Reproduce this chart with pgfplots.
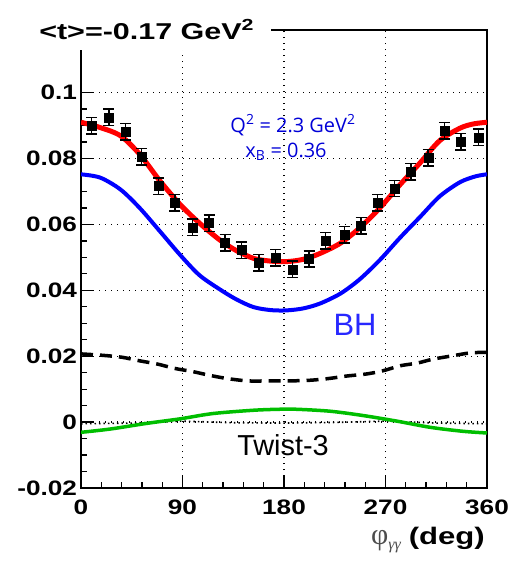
\documentclass[border=0pt]{standalone}
\usepackage{pgfplots}
\pgfplotsset{compat=1.18}
\usepackage{fontspec}
\setmainfont{Liberation Sans}
\newfontfamily\comic{Open Sans}
\newfontfamily\serifgreek{Liberation Serif}
\definecolor{txtblue}{RGB}{0,0,215}
\definecolor{bhblue}{RGB}{40,40,255}
\definecolor{rootgreen}{RGB}{0,190,0}

\pgfplotstableread{
x y e
9.5 0.0900 0.0025
24.8 0.0925 0.0025
39.6 0.0881 0.0025
53.8 0.0805 0.0025
68.5 0.0716 0.0025
83.3 0.0665 0.0025
98.7 0.0591 0.0025
113.5 0.0604 0.0025
127.7 0.0545 0.0025
142.5 0.0522 0.0025
157.8 0.0484 0.0025
172.6 0.0499 0.0025
187.4 0.0464 0.0025
202.2 0.0495 0.0025
217.0 0.0550 0.0025
233.5 0.0568 0.0025
248.3 0.0596 0.0025
263.1 0.0665 0.0025
277.8 0.0709 0.0025
292.6 0.0760 0.0025
307.9 0.0803 0.0025
322.1 0.0884 0.0025
336.9 0.0851 0.0025
352.3 0.0864 0.0025
}\datatable

\pgfplotstableread{
x y
0 0.0910
17 0.0894
35 0.0869
52 0.0813
70 0.0732
88 0.0660
105 0.0604
123 0.0553
138 0.0520
153 0.0497
167 0.0489
182 0.0487
197 0.0494
212 0.0512
230 0.0543
247 0.0589
265 0.0650
283 0.0721
301 0.0788
318 0.0854
336 0.0892
348 0.0905
360 0.0910
}\redtable

\pgfplotstableread{
x y
0 0.0752
17 0.0742
35 0.0706
52 0.0650
70 0.0579
88 0.0507
105 0.0446
123 0.0403
138 0.0372
153 0.0349
168 0.0340
182 0.0339
197 0.0345
212 0.0360
230 0.0390
247 0.0433
265 0.0492
283 0.0560
301 0.0624
318 0.0685
336 0.0728
350 0.0746
360 0.0752
}\bluetable

\pgfplotstableread{
x y
0 0.0207
18 0.0203
36 0.0197
52 0.0186
68 0.0176
83 0.0163
99.5 0.0153
114 0.0142
130 0.0132
148 0.0125
166 0.0125
184 0.0125
203 0.0127
219 0.0132
236 0.0140
253 0.0146
268 0.0156
283 0.0171
298 0.0179
312 0.0191
329 0.0201
345 0.0210
360 0.0212
}\dashtable

\pgfplotstableread{
x y
0 -0.0031
26 -0.0021
58 -0.0004
88 0.0010
117 0.0026
153 0.0036
176 0.0039
191 0.0039
221 0.0033
250 0.0020
280 0.0003
310 -0.0016
339 -0.0028
360 -0.0033
}\greentable

\pgfplotstableread{
x y
0 -0.0005
45 -0.0003
90 0.0003
135 -0.0002
180 -0.0003
225 -0.0001
270 0.0003
315 -0.0003
360 -0.0005
}\dottable

\begin{document}
\begin{tikzpicture}
\path[use as bounding box] (0,0) rectangle (521bp,-563bp);
\begin{axis}[
  at={(81bp,-488bp)}, anchor=south west,
  width=406bp, height=458bp, scale only axis,
  xmin=0, xmax=360, ymin=-0.02, ymax=0.119,
  xtick={0,90,180,270,360},
  xticklabels={0,90,180,270,360},
  ytick={-0.02,0,0.02,0.04,0.06,0.08,0.1},
  yticklabels={-0.02,0,0.02,0.04,0.06,0.08,0.1},
  minor x tick num=4, minor y tick num=3,
  tick align=inside, tick pos=left,
  major tick length=12bp, minor tick length=6bp,
  every tick/.style={black, line width=1.3bp},
  axis line style={line width=1.6bp},
  grid=major,
  major grid style={black, line width=1.4bp, dash pattern=on 1.4bp off 4.6bp},
  xticklabel style={font=\fontsize{21}{21}\selectfont\bfseries, xscale=1.25, anchor=north, inner sep=0pt, yshift=-12bp},
  yticklabel style={font=\fontsize{21}{21}\selectfont\bfseries, xscale=1.25, anchor=east, inner sep=0pt, xshift=-3bp},
]
\addplot[black, line width=1.6bp, dash pattern=on 1.5bp off 3bp] table[x=x,y=y] {\dottable};
\addplot[rootgreen, line width=3.5bp, smooth] table[x=x,y=y] {\greentable};
\addplot[black, line width=3.5bp, dash pattern=on 12bp off 7bp, smooth] table[x=x,y=y] {\dashtable};
\addplot[blue, line width=4bp, smooth] table[x=x,y=y] {\bluetable};
\addplot[red, line width=5bp, smooth] table[x=x,y=y] {\redtable};
\addplot[black, only marks, mark=square*, mark size=4.5bp,
  error bars/.cd, y dir=both, y explicit,
  error bar style={line width=1.5bp},
  error mark options={rotate=90, mark size=5.5bp, line width=1.5bp}]
  table[x=x,y=y,y error=e] {\datatable};
\end{axis}
\fill[white] (30bp,-4bp) rectangle (271bp,-50bp);
\node[anchor=base west, inner sep=0pt, xscale=1.33, font=\fontsize{23}{23}\selectfont\bfseries] at (39bp,-39bp) {<t>=-0.17 GeV\textsuperscript{2}};
\node[anchor=base, inner sep=0pt, text=txtblue, font=\comic\fontsize{20}{20}\selectfont] at (293bp,-132bp) {Q\textsuperscript{2} = 2.3 GeV\textsuperscript{2}};
\node[anchor=base, inner sep=0pt, text=txtblue, font=\comic\fontsize{20}{20}\selectfont] at (286bp,-157bp) {x\textsubscript{B} = 0.36};
\node[anchor=center, inner sep=0pt, text=bhblue, font=\fontsize{31}{31}\selectfont] at (355bp,-325bp) {BH};
\node[anchor=center, inner sep=0pt, font=\fontsize{29}{29}\selectfont] at (283bp,-445bp) {Twist-3};
\node[anchor=base east, inner sep=0pt, font=\fontsize{24}{24}\selectfont\bfseries] at (485bp,-544bp) {{\color{black!70}\mdseries\serifgreek\fontsize{30}{30}\selectfont φ\raisebox{-5bp}{\itshape\fontsize{16}{16}\selectfont γγ}}\hspace{8bp}\scalebox{1.3}[1]{(deg)}};
\end{tikzpicture}
\end{document}
